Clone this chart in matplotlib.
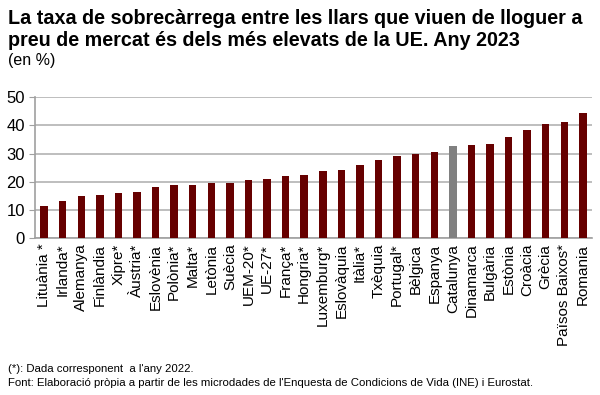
import matplotlib
matplotlib.use('Agg')
import matplotlib.pyplot as plt

plt.rcParams['font.family'] = ['Liberation Sans', 'DejaVu Sans']

# categories and values (en %)
paisos = ['Lituània *', 'Irlanda*', 'Alemanya', 'Finlàndia', 'Xipre*', 'Àustria*',
          'Eslovènia', 'Polònia*', 'Malta*', 'Letònia', 'Suècia', 'UEM-20*',
          'UE-27*', 'França*', 'Hongria*', 'Luxemburg*', 'Eslovàquia', 'Itàlia*',
          'Txèquia', 'Portugal*', 'Bèlgica', 'Espanya', 'Catalunya', 'Dinamarca',
          'Bulgària', 'Estònia', 'Croàcia', 'Grècia', 'Països Baixos*', 'Romania']
taxa = [11.4, 13.3, 14.8, 15.4, 16.0, 16.3, 18.1, 18.7, 18.7, 19.4, 19.4, 20.6,
        20.9, 22.1, 22.4, 23.7, 24.2, 26.0, 27.6, 29.3, 29.8, 30.7, 32.7, 33.1,
        33.4, 35.8, 38.2, 40.5, 41.3, 44.4]
yticks = [0, 10, 20, 30, 40, 50]

colors = ['#808080' if p == 'Catalunya' else '#660000' for p in paisos]

fig = plt.figure(figsize=(6, 3.95), dpi=100)
ax = fig.add_axes([0.058, 0.397, 0.929, 0.357])

x = range(len(paisos))
ax.bar(x, taxa, width=0.4, color=colors, zorder=3)

ax.set_xlim(-0.5, len(paisos) - 0.5)
ax.set_ylim(0, 50)
ax.set_yticks(yticks)
ax.set_yticklabels([str(v) for v in yticks], fontsize=12)
ax.set_xticks(list(x))
ax.set_xticklabels(paisos, rotation=90, fontsize=11)

ax.yaxis.grid(True, color='#b3b3b3', linewidth=1.2, zorder=0)
for s in ['top', 'right']:
    ax.spines[s].set_visible(False)
for s in ['left', 'bottom']:
    ax.spines[s].set_color('#a0a0a0')
    ax.spines[s].set_linewidth(1.2)
ax.tick_params(axis='y', length=4, color='#a0a0a0', pad=3)
ax.tick_params(axis='x', length=0, pad=4)

fig.text(0.013, 0.978, 'La taxa de sobrecàrrega entre les llars que viuen de lloguer a\n'
         'preu de mercat és dels més elevats de la UE. Any 2023',
         fontsize=14.2, fontweight='bold', va='top', linespacing=1.22)
fig.text(0.013, 0.866, '(en %)', fontsize=11.5, va='top')

fig.text(0.013, 0.065, "(*): Dada corresponent  a l'any 2022.", fontsize=8.2, va='center')
fig.text(0.013, 0.030, "Font: Elaboració pròpia a partir de les microdades de l'Enquesta de Condicions de Vida (INE) i Eurostat.",
         fontsize=8.2, va='center')

fig.savefig('out.png', dpi=100)
